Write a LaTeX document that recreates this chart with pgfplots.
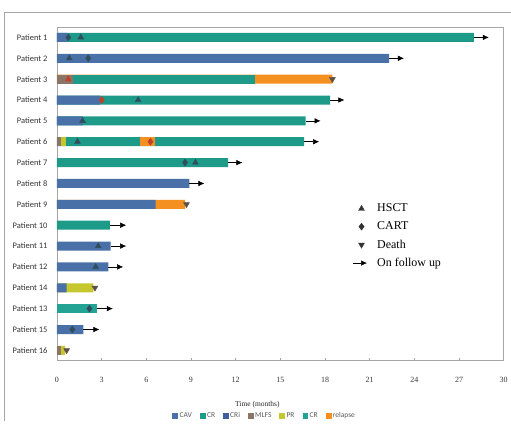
\documentclass[border=0pt]{standalone}
\usepackage{fontspec}
\setmainfont{Liberation Serif}
\newfontfamily\carlito{Carlito}
\usepackage{pgfplots}
\pgfplotsset{compat=1.18}
\usetikzlibrary{arrows.meta}
\definecolor{cav}{HTML}{4A70A8}
\definecolor{cr}{HTML}{1E9A88}
\definecolor{cri}{HTML}{3D5F9E}
\definecolor{mlfs}{HTML}{8B7468}
\definecolor{pr}{HTML}{C5C72D}
\definecolor{crtwo}{HTML}{22A393}
\definecolor{relapse}{HTML}{F39020}
\definecolor{mk}{HTML}{2F4F5F}
\definecolor{mkred}{HTML}{C0402A}
\definecolor{death}{HTML}{5C5048}
\definecolor{frame}{HTML}{A6A6A6}
\begin{document}
\begin{tikzpicture}
\pgfplotsset{seg/.style={xbar, bar width=9bp, bar shift=0pt, draw=none, fill=#1, forget plot}}
\begin{axis}[name=main, scale only axis, width=447bp, height=334bp,
  xmin=0, xmax=30, ymin=0.5, ymax=16.5, y dir=reverse,
  xtick={0,3,...,30}, ytick={1,...,16},
  yticklabels={Patient 1,Patient 2,Patient 3,Patient 4,Patient 5,Patient 6,Patient 7,Patient 8,Patient 9,Patient 10,Patient 11,Patient 12,Patient 14,Patient 13,Patient 15,Patient 16},
  xtick pos=bottom, ytick pos=left, tick align=inside, major tick length=3bp,
  y tick style={draw=none}, x tick style={frame, line width=0.6bp},
  axis line style={draw=frame, line width=0.7bp},
  /pgf/number format/assume math mode=true,
  xticklabel style={font=\fontsize{8}{9}\selectfont, yshift=-13bp, text=black!80},
  yticklabel style={font=\carlito\fontsize{8.5}{10}\selectfont, xshift=-6bp, text=black!80},
  xlabel={Time (months)},
  xlabel style={font=\fontsize{7.5}{9}\selectfont, xshift=-23bp, yshift=-12bp, text=black!85},
  legend columns=7,
  legend style={at={(axis description cs:0.465,0)}, anchor=center, yshift=-55bp, draw=none, fill=none,
    font=\carlito\fontsize{7.5}{8}\selectfont, text=black!65,
    /tikz/every even column/.append style={column sep=6bp}},
  legend cell align=left,
]
\addlegendimage{legend image code/.code={\fill[cav] (0bp,-2.4bp) rectangle (4.8bp,2.4bp);}}
\addlegendentry{CAV}
\addlegendimage{legend image code/.code={\fill[cr] (0bp,-2.4bp) rectangle (4.8bp,2.4bp);}}
\addlegendentry{CR}
\addlegendimage{legend image code/.code={\fill[cri] (0bp,-2.4bp) rectangle (4.8bp,2.4bp);}}
\addlegendentry{CRi}
\addlegendimage{legend image code/.code={\fill[mlfs] (0bp,-2.4bp) rectangle (4.8bp,2.4bp);}}
\addlegendentry{MLFS}
\addlegendimage{legend image code/.code={\fill[pr] (0bp,-2.4bp) rectangle (4.8bp,2.4bp);}}
\addlegendentry{PR}
\addlegendimage{legend image code/.code={\fill[crtwo] (0bp,-2.4bp) rectangle (4.8bp,2.4bp);}}
\addlegendentry{CR}
\addlegendimage{legend image code/.code={\fill[relapse] (0bp,-2.4bp) rectangle (4.8bp,2.4bp);}}
\addlegendentry{relapse}
% layer 1 (full length of each bar)
\addplot[seg=cr] coordinates {(28.0,1) (18.35,4) (16.7,5) (16.6,6) (11.5,7) (3.55,10)};
\addplot[seg=cav] coordinates {(22.3,2) (8.9,8) (3.6,11) (3.45,12) (1.78,15)};
\addplot[seg=relapse] coordinates {(18.5,3) (8.6,9)};
\addplot[seg=pr] coordinates {(2.45,13) (0.55,16)};
\addplot[seg=crtwo] coordinates {(2.7,14)};
% layer 2
\addplot[seg=cav] coordinates {(0.68,1) (2.9,4) (1.72,5) (6.63,9) (0.65,13)};
\addplot[seg=cr] coordinates {(13.3,3)};
\addplot[seg=relapse] coordinates {(6.6,6)};
\addplot[seg=mlfs] coordinates {(0.27,16)};
% layer 3
\addplot[seg=mlfs] coordinates {(1.1,3)};
\addplot[seg=cr] coordinates {(5.55,6)};
% layer 4
\addplot[seg=pr] coordinates {(0.6,6)};
% layer 5
\addplot[seg=mlfs] coordinates {(0.3,6)};
% follow-up arrows
\addplot[forget plot, black, line width=0.5bp,
  quiver={u=\thisrow{u}, v=0, every arrow/.append style={-{Latex[length=6bp,width=5.5bp]}}}]
  table {
x y u
28.0 1 1.0
22.3 2 1.0
18.35 4 0.95
16.7 5 1.0
16.6 6 1.0
11.5 7 0.95
8.9 8 1.0
3.55 10 1.1
3.6 11 1.05
3.45 12 1.0
2.7 14 1.05
1.78 15 1.07
};
% HSCT
\addplot[forget plot, only marks, mark=triangle*, mark size=3.4bp, mark options={fill=mk, draw=mk}]
  coordinates {(1.6,1) (0.83,2) (5.45,4) (1.72,5) (1.38,6) (9.3,7) (2.77,11) (2.6,12)};
\addplot[forget plot, only marks, mark=triangle*, mark size=3.4bp, mark options={fill=mkred, draw=mkred}]
  coordinates {(0.76,3)};
% CART
\addplot[forget plot, only marks, mark=diamond*, mark size=3.5bp, mark options={fill=mk, draw=mk}]
  coordinates {(0.76,1) (2.1,2) (8.6,7) (2.18,14) (1.03,15)};
\addplot[forget plot, only marks, mark=diamond*, mark size=3.5bp, mark options={fill=mkred, draw=mkred}]
  coordinates {(3.0,4) (6.28,6)};
% Death
\addplot[forget plot, only marks, mark=triangle*, mark size=3.4bp, mark options={rotate=180, fill=death, draw=death}]
  coordinates {(18.5,3) (8.7,9) (2.55,13) (0.65,16)};
\end{axis}
\begin{axis}[at={(main.south west)}, anchor=south west, scale only axis, width=447bp, height=334bp,
  hide axis, xmin=0, xmax=1, ymin=0, ymax=1,
  legend style={at={(0.655,0.482)}, anchor=north west, draw=none, fill=none,
    font=\fontsize{12}{13}\selectfont, row sep=4.5bp,
    /tikz/every odd column/.append style={column sep=8bp}},
  legend cell align=left]
\addlegendimage{only marks, mark=triangle*, mark size=3.4bp, mark options={fill=black!80, draw=black!80}}
\addlegendentry{HSCT}
\addlegendimage{only marks, mark=diamond*, mark size=3.5bp, mark options={fill=black!80, draw=black!80}}
\addlegendentry{CART}
\addlegendimage{only marks, mark=triangle*, mark size=3.4bp, mark options={rotate=180, fill=black!80, draw=black!80}}
\addlegendentry{Death}
\addlegendimage{legend image code/.code={\draw[black, line width=0.5bp, -{Latex[length=6bp,width=5.5bp]}] (0bp,0bp) -- (14bp,0bp);}}
\addlegendentry{On follow up}
\addplot[draw=none, forget plot] coordinates {(0,0)};
\end{axis}
\path[use as bounding box] ([xshift=-57bp,yshift=-60bp]main.south west) rectangle ([xshift=7bp,yshift=27bp]main.north east);
\draw[frame, line width=0.8bp] ([xshift=-52.5bp,yshift=-60bp]main.south west) -- ([xshift=-52.5bp,yshift=14.5bp]main.north west) -- ([xshift=7bp,yshift=14.5bp]main.north east);
\end{tikzpicture}
\end{document}
